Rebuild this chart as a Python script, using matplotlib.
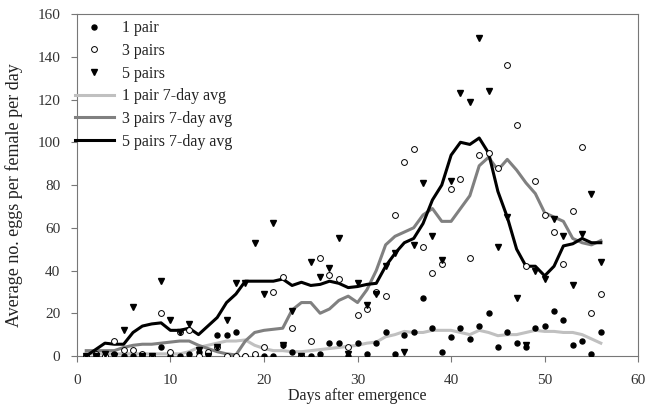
import matplotlib
matplotlib.use('Agg')
import matplotlib.pyplot as plt
import numpy as np

plt.rcParams.update({
    'font.family': 'serif',
    'font.serif': ['Liberation Serif', 'DejaVu Serif'],
    'font.size': 11,
})

days = np.arange(1, 57)

# daily values
pair1 = [0, 0, 0, 1, 0, 0, 0, 0, 4, 0, 0, 1, 2, 1, 10, 10, 11, 0, 0, 0,
         0, 5, 2, 0, 0, 1, 6, 6, 0, 6, 1, 6, 11, 1, 10, 11, 27, 13, 2, 9,
         13, 8, 14, 20, 4, 11, 6, 4, 13, 14, 21, 17, 5, 7, 1, 11]
pairs3 = [0, 1, 0, 7, 3, 3, 1, 0, 20, 2, 11, 12, 0, 2, 4, 0, 0, 0, 1, 4,
          30, 37, 13, 0, 7, 46, 38, 36, 4, 19, 22, 30, 28, 66, 91, 97, 51, 39, 43, 78,
          83, 46, 94, 95, 88, 136, 108, 42, 82, 66, 58, 43, 68, 98, 20, 29]
pairs5 = [0, 0, 1, 0, 12, 23, 0, 0, 35, 17, 11, 15, 3, 0, 4, 17, 34, 34, 53, 29,
          62, 5, 21, 0, 44, 37, 41, 55, 1, 34, 24, 29, 42, 48, 2, 52, 81, 56, 45, 82,
          123, 119, 149, 124, 51, 65, 27, 5, 40, 36, 64, 56, 33, 57, 76, 44]

# 7-day average lines
avg1 = [1, 1, 1, 1, 1, 1, 1, 1, 1, 1, 1, 2, 4, 5, 6, 7, 7, 7.5, 5, 3.5,
        2.5, 2.5, 2, 2, 2.5, 3, 3.5, 4, 4.5, 5, 6, 6.5, 9, 10, 11.5, 11, 11, 12, 12, 12,
        11, 10, 12, 11, 9.5, 10, 10, 11, 12, 11.5, 11.5, 11, 11, 10, 8, 6]
avg3 = [2.5, 2.5, 2.5, 2.5, 4, 5, 5.5, 5.5, 6, 6.5, 7, 7, 5, 3.5, 2, 1, 0.5, 7, 11, 12,
        12.5, 13, 21.5, 25, 25, 20, 22, 26, 28, 25, 31, 40, 52, 56, 58, 60, 66, 69, 63, 63,
        69, 75, 89, 93, 87, 92, 87, 81, 76, 67, 65, 63, 55, 53, 52, 54]
avg5 = [0, 3, 6, 5.5, 5.5, 11, 14, 15, 15.5, 12, 12, 13, 10, 14, 18, 25, 29, 35, 35, 35,
        35, 36, 33, 34.5, 33, 33.5, 35, 34, 32, 32.5, 33.5, 34, 42, 48, 53, 55, 62, 73, 80, 94,
        100, 99, 102, 95, 77, 65, 50, 42, 42, 37.5, 42, 51.5, 52.5, 55, 53, 53]

fig = plt.figure(figsize=(6.46, 4.08), dpi=100)
ax = fig.add_axes([0.119, 0.1275, 0.869, 0.838])

ax.plot(days, pair1, 'o', color='black', ms=3.6, label='1 pair', zorder=3)
ax.plot(days, pairs3, 'o', mfc='white', mec='black', mew=0.7, ms=4.2, label='3 pairs', zorder=3)
ax.plot(days, pairs5, 'v', color='black', ms=4.0, label='5 pairs', zorder=3)
ax.plot(days, avg1, color='#c0c0c0', lw=2.2, label='1 pair 7-day avg', zorder=2)
ax.plot(days, avg3, color='#808080', lw=2.2, label='3 pairs 7-day avg', zorder=2)
ax.plot(days, avg5, color='black', lw=2.2, label='5 pairs 7-day avg', zorder=2)

ax.set_xlim(0, 60)
ax.set_ylim(0, 160)
ax.set_xticks(range(0, 61, 10))
ax.set_yticks(range(0, 161, 20))
for s in ax.spines.values():
    s.set_color('#777777')
ax.tick_params(direction='out', length=4, color='#777777', labelcolor='#333333', labelsize=11)
ax.tick_params(axis='x', pad=9)
ax.tick_params(axis='y', pad=8)
ax.set_xlabel('Days after emergence', fontsize=11.5, color='#222222')
ax.set_ylabel('Average no. eggs per female per day', fontsize=13, color='#222222')
ax.xaxis.set_label_coords(0.5, -0.095)
ax.yaxis.set_label_coords(-0.096, 0.47)

ax.legend(loc='upper left', bbox_to_anchor=(-0.02, 1.01), frameon=False, fontsize=11.5,
          handlelength=2.4, handletextpad=0.5, labelspacing=0.42, borderaxespad=0.2,
          labelcolor='#222222')

fig.savefig('out.png', dpi=100)
